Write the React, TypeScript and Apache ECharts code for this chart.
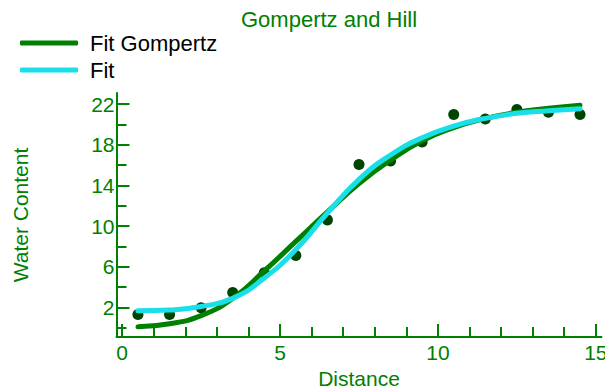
import React, { useEffect, useRef } from "react";
import * as echarts from "echarts";

const pointX = [0.5, 1.5, 2.5, 3.5, 4.5, 5.5, 6.5, 7.5, 8.5, 9.5, 10.5, 11.5, 12.5, 13.5, 14.5];
const pointY = [1.32, 1.32, 1.97, 3.48, 5.41, 7.12, 10.62, 16.07, 16.42, 18.29, 20.98, 20.55, 21.47, 21.2, 20.98];

const fitX = [0.5, 1.5, 2.5, 3.5, 4.5, 5.5, 6.5, 7.5, 8.5, 9.5, 10.5, 11.5, 12.5, 13.5, 14.5];
const gompertzY = [0.1, 0.4, 1.2, 2.9, 5.6, 8.5, 11.4, 14.2, 16.5, 18.4, 19.7, 20.6, 21.2, 21.6, 21.9];
const hillY = [1.67, 1.75, 2.1, 2.9, 4.9, 7.7, 11.3, 14.6, 17.0, 18.7, 19.85, 20.6, 21.1, 21.35, 21.55];

const xMajorTicks = [0, 5, 10, 15];
const xMinorTicks = [1, 2, 3, 4, 6, 7, 8, 9, 11, 12, 13, 14];
const yMajorTicks = [2, 6, 10, 14, 18, 22];
const yMinorTicks = [0, 4, 8, 12, 16, 20];

const GREEN = "#008000";
const FONT = "Liberation Sans, Arial, sans-serif";

export default function App() {
  const ref = useRef<HTMLDivElement>(null);
  useEffect(() => {
    if (!ref.current) return;
    const chart = echarts.init(ref.current, null, { renderer: "svg" });
    const xMin = -0.18, xMax = 15.18, yMin = -0.9, yMax = 23.1;
    const option: any = {
      animation: false,
      backgroundColor: "#ffffff",
      title: {
        text: "Gompertz and Hill",
        left: 241,
        top: 8,
        padding: 0,
        textStyle: { color: GREEN, fontSize: 22, fontWeight: "normal", fontFamily: FONT },
      },
      legend: {
        orient: "vertical",
        left: 20,
        top: 32,
        padding: 0,
        itemGap: 5,
        itemWidth: 58,
        itemHeight: 5,
        icon: "roundRect",
        data: ["Fit Gompertz", "Fit"],
        textStyle: { color: "#000", fontSize: 22, fontFamily: FONT, lineHeight: 21, padding: [0, 0, 0, 7] },
      },
      grid: { left: 116.5, right: 3.5, top: 93, bottom: 51, containLabel: false, outerBoundsMode: "none" },
      xAxis: [
        {
          type: "value",
          min: xMin,
          max: xMax,
          name: "Distance",
          nameLocation: "middle",
          nameGap: 26,
          nameTextStyle: { color: GREEN, fontSize: 21, fontFamily: FONT, lineHeight: 21 },
          axisLine: { show: true, onZero: false, lineStyle: { color: GREEN, width: 2 } },
          axisTick: { show: true, inside: true, length: 13, customValues: xMajorTicks, lineStyle: { color: GREEN, width: 2 } },
          axisLabel: { show: true, customValues: xMajorTicks, margin: 5, color: GREEN, fontSize: 21, fontFamily: FONT },
          splitLine: { show: false },
        },
        {
          type: "value",
          min: xMin,
          max: xMax,
          position: "bottom",
          axisLine: { show: false, onZero: false },
          axisTick: { show: true, inside: true, length: 10, customValues: xMinorTicks, lineStyle: { color: GREEN, width: 2 } },
          axisLabel: { show: false },
          splitLine: { show: false },
        },
      ],
      yAxis: [
        {
          type: "value",
          min: yMin,
          max: yMax,
          name: "Water Content",
          nameLocation: "middle",
          nameGap: 86,
          nameTextStyle: { color: GREEN, fontSize: 21, fontFamily: FONT },
          axisLine: { show: true, onZero: false, lineStyle: { color: GREEN, width: 2 } },
          axisTick: { show: true, inside: true, length: 13, customValues: yMajorTicks, lineStyle: { color: GREEN, width: 2 } },
          axisLabel: { show: true, customValues: yMajorTicks, margin: 2, color: GREEN, fontSize: 21, fontFamily: FONT },
          splitLine: { show: false },
        },
        {
          type: "value",
          min: yMin,
          max: yMax,
          position: "left",
          axisLine: { show: false, onZero: false },
          axisTick: { show: true, inside: true, length: 10, customValues: yMinorTicks, lineStyle: { color: GREEN, width: 2 } },
          axisLabel: { show: false },
          splitLine: { show: false },
        },
      ],
      series: [
        {
          name: "Data",
          type: "scatter",
          symbol: "circle",
          symbolSize: 11,
          itemStyle: { color: "#004400", opacity: 1 },
          data: pointX.map((x, i) => [x, pointY[i]]),
          z: 1,
        },
        {
          name: "Fit Gompertz",
          type: "line",
          smooth: true,
          showSymbol: false,
          symbol: "none",
          color: GREEN,
          lineStyle: { color: GREEN, width: 5, cap: "round" },
          data: fitX.map((x, i) => [x, gompertzY[i]]),
          z: 2,
        },
        {
          name: "Fit",
          type: "line",
          smooth: true,
          showSymbol: false,
          symbol: "none",
          color: "#19dfe9",
          lineStyle: { color: "#19dfe9", width: 5, cap: "round" },
          data: fitX.map((x, i) => [x, hillY[i]]),
          z: 3,
        },
      ],
    };
    chart.setOption(option);
    return () => chart.dispose();
  }, []);
  return <div ref={ref} style={{ width: 605, height: 388, position: "absolute", left: 0, top: 0 }} />;
}
